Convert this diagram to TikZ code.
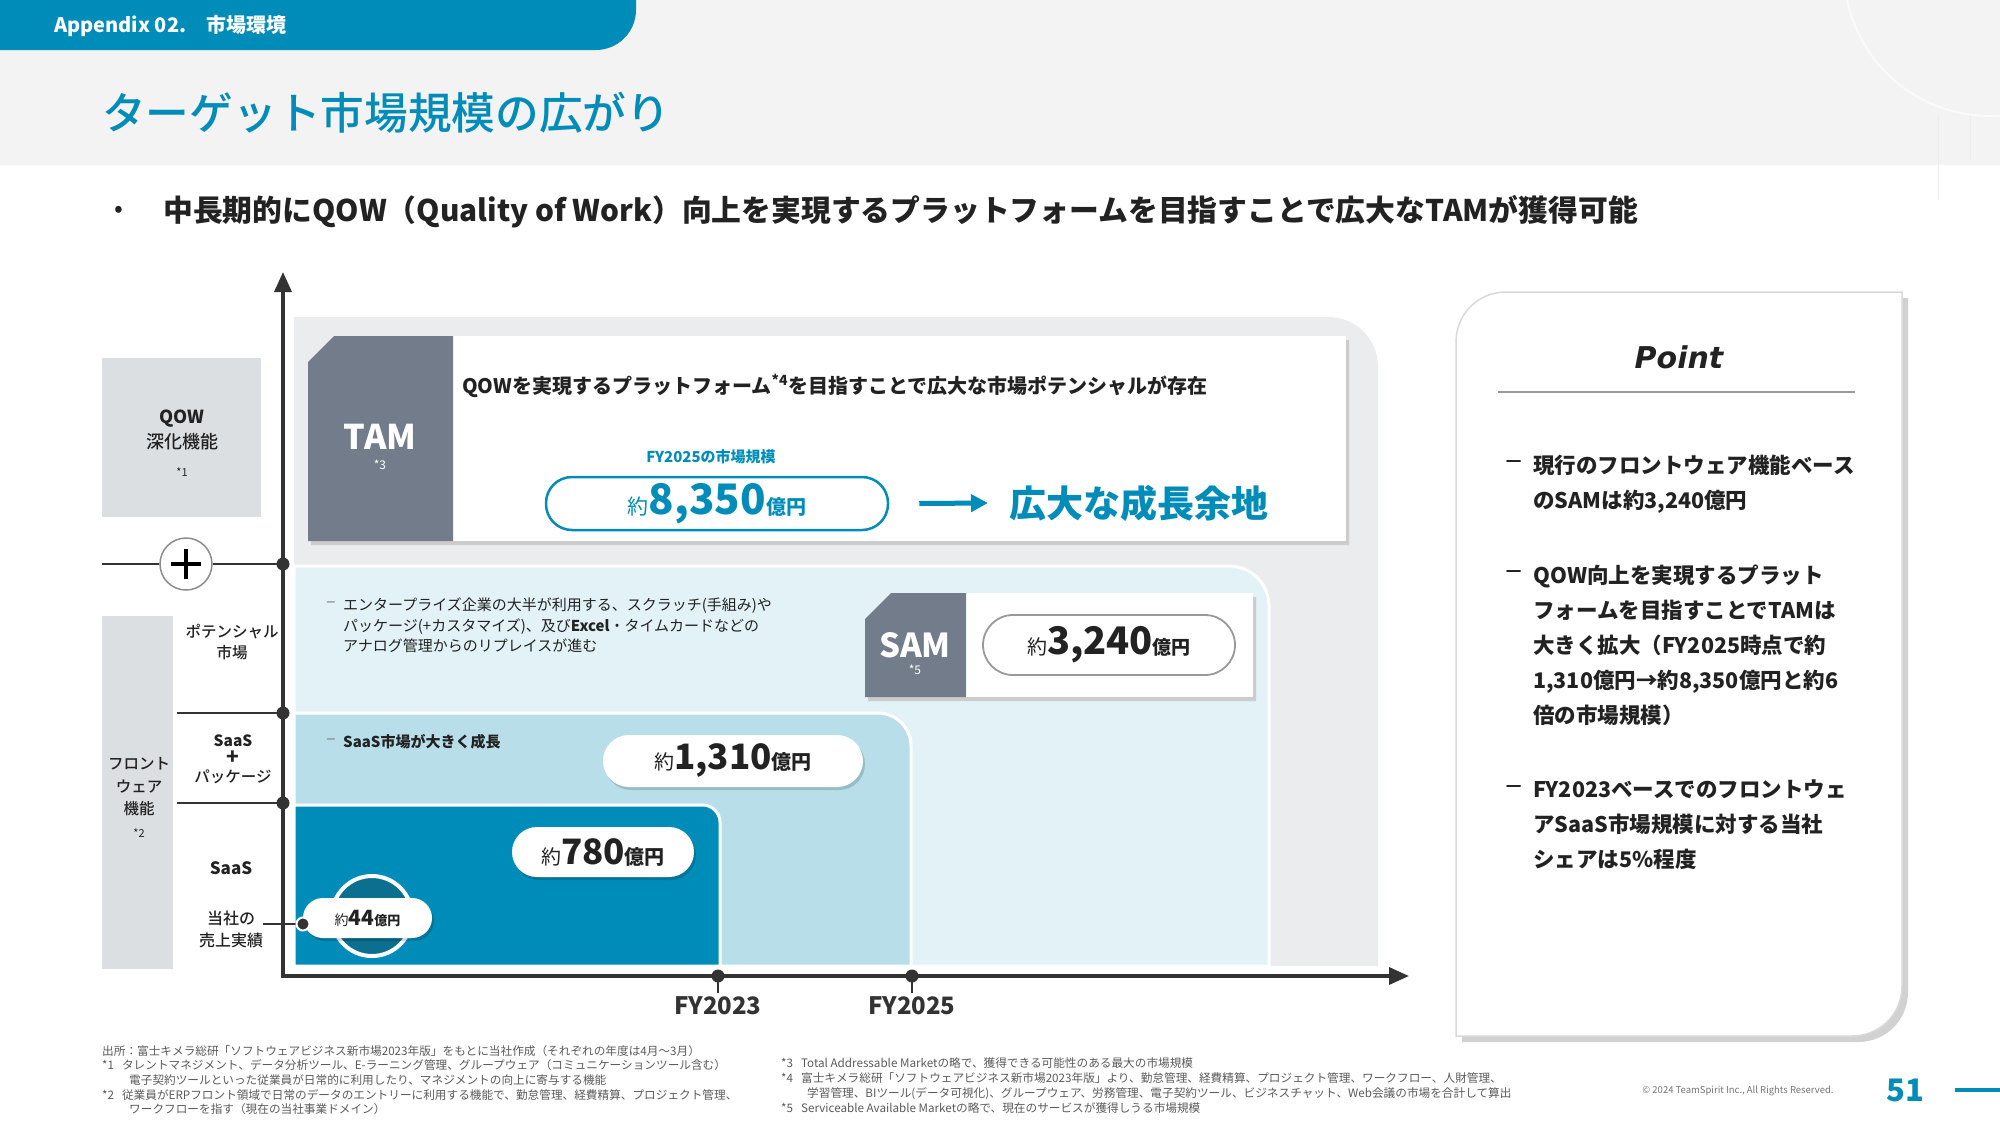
\documentclass[tikz,border=0pt]{standalone}
\usepackage{fontspec}
\setmainfont{Noto Sans CJK JP}
\newfontfamily\jpmed{Noto Sans CJK JP Medium}
\newfontfamily\pointfont{DejaVu Sans Bold Oblique}
\usetikzlibrary{arrows.meta,shadows}
\definecolor{brand}{RGB}{0,140,184}
\definecolor{hdbg}{RGB}{243,243,243}
\definecolor{tamgray}{RGB}{234,236,238}
\definecolor{potblue}{RGB}{226,242,247}
\definecolor{midblue}{RGB}{184,223,233}
\definecolor{ringteal}{RGB}{11,111,143}
\definecolor{tabgray}{RGB}{115,124,139}
\definecolor{boxgray}{RGB}{220,223,226}
\definecolor{ink}{RGB}{34,34,34}
\definecolor{axcol}{RGB}{51,51,51}
\definecolor{notegray}{RGB}{90,90,90}
\newcommand\sz[1]{\fontsize{#1}{#1}\selectfont}
\newcommand\oku[4]{{\sz{#1}約}{\sz{#2}\bfseries #3}{\sz{#4}\bfseries 億円}}

\begin{document}
\begin{tikzpicture}[x=1pt,y=-1pt,every node/.style={inner sep=0pt,text=ink},
 ax/.style={axcol,line width=3.5pt,line cap=rect},lead/.style={axcol,line width=1.4pt},
 pill/.style={fill=white,rounded corners=#1,drop shadow={shadow xshift=2pt,shadow yshift=-3pt,fill=black,opacity=.16}},
 tab/.style={fill=tabgray},lbl/.style={align=center},
 note/.style={anchor=north west,align=left,text=notegray,font=\fontsize{11.65}{14.7}\selectfont}]
\useasboundingbox (0,0) rectangle (2000,1125);
\fill[hdbg] (0,0) rectangle (2000,165);
\draw[white,line width=2pt,opacity=.6] (1990,-30) circle[radius=146];
\draw[black!7,line width=1pt] (1938,115) -- (1938,200) (1970,115) -- (1970,160);
\fill[brand] (0,0) -- (636,0) -- (636,10) .. controls (636,32) and (618,50) .. (596,50) -- (0,50) -- cycle;
\node[anchor=west,text=white,font=\sz{20}\bfseries] (sect) at (54,26) {Appendix 02.　市場環境};
\node[anchor=west,text=brand,font=\jpmed\sz{43.7}] (title) at (102,113) {ターゲット市場規模の広がり};
\node[font=\sz{26}] (bul) at (119,212) {•};
\node[anchor=west,font=\sz{29.8}\bfseries] (headline) at (163,212) {中長期的にQOW（Quality of Work）向上を実現するプラットフォームを目指すことで広大なTAMが獲得可能};
% market areas
\fill[tamgray] (294,966) -- (294,317) -- (1328,317) .. controls (1356,317) and (1378,339) .. (1378,367) -- (1378,966) -- cycle;
\filldraw[fill=potblue,draw=white,line width=3pt] (294,966) -- (294,566) -- (1229,566) .. controls (1251,566) and (1269,584) .. (1269,606) -- (1269,966) -- cycle;
\filldraw[fill=midblue,draw=white,line width=3pt] (294,966) -- (294,713) -- (878,713) .. controls (896,713) and (911,728) .. (911,746) -- (911,966) -- cycle;
\filldraw[fill=brand,draw=white,line width=3pt] (294,966) -- (294,805) -- (703,805) .. controls (712,805) and (720,813) .. (720,822) -- (720,966) -- cycle;
% TAM
\fill[black!20,shift={(3,4)}] (308,362) -- (334,336) -- (1346,336) -- (1346,541) -- (308,541) -- cycle;
\fill[white] (453,336) rectangle (1346,541);
\fill[tab] (308,362) -- (334,336) -- (453,336) -- (453,541) -- (308,541) -- cycle;
\node[text=white,font=\sz{34}\bfseries] (tam) at (380,437) {TAM};
\node[text=white,font=\sz{12}] (tamref) at (380,465) {*3};
\node[anchor=west,font=\sz{20}\bfseries] (tamdesc) at (462,386) {QOWを実現するプラットフォーム\textsuperscript{*4}を目指すことで広大な市場ポテンシャルが存在};
\node[text=brand,font=\sz{15}\bfseries] (fylbl) at (711,457) {FY2025の市場規模};
\node[draw=brand,line width=2.5pt,fill=white,rounded corners=26pt,minimum width=342pt,minimum height=53pt,text=brand] (tampill) at (717,503.5) {\oku{21}{42}{8,350}{20}};
\node[anchor=west,text=brand,font=\sz{37}\bfseries] (growth) at (1009,503) {広大な成長余地};
\draw[brand,line width=5pt,-{Triangle[length=17pt,width=17pt]}] ([xshift=30pt]tampill.east) -- ([xshift=-21pt]growth.west);
% SAM
\fill[black!20,shift={(3,4)}] (865,619) -- (891,593) -- (1253,593) -- (1253,697) -- (865,697) -- cycle;
\fill[white] (966,593) rectangle (1253,697);
\fill[tab] (865,619) -- (891,593) -- (966,593) -- (966,697) -- (865,697) -- cycle;
\node[text=white,font=\sz{33}\bfseries] (sam) at (915,645) {SAM};
\node[text=white,font=\sz{12}] (samref) at (915,670) {*5};
\node[draw=black!40,line width=1.8pt,fill=white,rounded corners=30pt,minimum width=252pt,minimum height=60pt] (sampill) at (1109,645) {\oku{20}{38}{3,240}{19}};
\node[anchor=west,text=black!50,font=\sz{18}] (dasha) at (326,605) {–};
\node[anchor=north west,align=left,font=\fontsize{15}{20.5}\selectfont] (enttxt) at (343,598) {エンタープライズ企業の大半が利用する、スクラッチ(手組み)や\\パッケージ(+カスタマイズ)、及び\textbf{Excel}・タイムカードなどの\\アナログ管理からのリプレイスが進む};
\node[anchor=west,text=black!50,font=\sz{18}] (dashb) at (326,742) {–};
\node[anchor=west,font=\sz{15}\bfseries] (saasgrow) at (343,742) {SaaS市場が大きく成長};
% amounts
\filldraw[fill=ringteal,draw=white,line width=4pt] (372,916) circle[radius=40];
\node[pill=26pt,minimum width=260pt,minimum height=52pt] (p1310) at (733,761) {\oku{20}{35}{1,310}{20}};
\node[pill=25pt,minimum width=182pt,minimum height=50pt] (p780) at (603,852) {\oku{20}{35}{780}{20}};
\node[pill=20pt,minimum width=129pt,minimum height=40pt] (p44) at (367.5,918) {\oku{14}{21}{44}{13}};
% left labels
\fill[boxgray] (102,358) rectangle (261,517);
\node[lbl,font=\jpmed\fontsize{18}{25}\selectfont] (qow) at (182,429.5) {\textbf{QOW}\\深化機能};
\node[font=\sz{11}] (qowref) at (182,472) {*1};
\fill[boxgray] (102,616) rectangle (173,969);
\node[lbl,font=\jpmed\fontsize{15.5}{22.5}\selectfont] (front) at (139,787) {フロント\\ウェア\\機能};
\node[font=\sz{11}] (frontref) at (139,833) {*2};
\node[lbl,font=\jpmed\fontsize{15.5}{21}\selectfont] (potlbl) at (232,642) {ポテンシャル\\市場};
\node[lbl,font=\jpmed\fontsize{15.5}{18}\selectfont] (pkglbl) at (233,759) {\textbf{SaaS}\\{\sz{21}\textbf{+}}\\パッケージ};
\node[font=\sz{17}\bfseries] (saaslbl) at (231,868) {SaaS};
\node[lbl,font=\jpmed\fontsize{16}{22}\selectfont] (selflbl) at (231,929) {当社の\\売上実績};
\node[circle,draw=black!45,line width=1.5pt,fill=white,minimum size=52pt] (plus) at (186,564) {};
\draw[line width=4pt] ([xshift=-15pt]plus.center) -- ([xshift=15pt]plus.center) ([yshift=-15pt]plus.center) -- ([yshift=15pt]plus.center);
\coordinate (qowstart) at (102,564);\coordinate (potstart) at (177,713);\coordinate (pkgstart) at (177,803);
\coordinate (selfstart) at (263,924);\coordinate (p44dot) at (303,924);
% axes
\coordinate (orig) at (283,976);\coordinate (ytip) at (283,272);\coordinate (xtip) at (1409,976);
\draw[ax,-{Triangle[length=20pt,width=17pt]}] (orig) -- (ytip);
\draw[ax,-{Triangle[length=20pt,width=17pt]}] (orig) -- (xtip);
\foreach \y/\n in {564/qowcut,713/potcut,803/pkgcut}{\coordinate (\n) at (283,\y);}
\draw[lead] (qowstart) -- (plus.west) (plus.east) -- (qowcut) (potstart) -- (potcut) (pkgstart) -- (pkgcut) (selfstart) -- (p44dot);
\foreach \n in {qowcut,potcut,pkgcut}{\fill[axcol] (\n) circle[radius=6.5];}
\filldraw[fill=axcol,draw=white,line width=2pt] (p44dot) circle[radius=6.5];
\foreach \x/\n/\t in {718/fy23/FY2023,912/fy25/FY2025}{
 \coordinate (\n) at (\x,976);\fill[axcol] (\n) circle[radius=6.5];
 \draw[lead,line width=1.2pt] (\n) -- ++(0,17);
 \node[font=\sz{24}\bfseries,text=axcol] (lbl\n) at (\x,1006) {\t};}
% point
\fill[black!18,shift={(6,6)}] (1456,1036) -- (1456,342) .. controls (1456,314) and (1478,292) .. (1506,292) -- (1902,292) -- (1902,986) .. controls (1902,1014) and (1880,1036) .. (1852,1036) -- cycle;
\filldraw[fill=white,draw=black!15,line width=1.5pt] (1456,1036) -- (1456,342) .. controls (1456,314) and (1478,292) .. (1506,292) -- (1902,292) -- (1902,986) .. controls (1902,1014) and (1880,1036) .. (1852,1036) -- cycle;
\node[font=\pointfont\sz{30}] (pointttl) at (1679,357) {Point};
\coordinate (rulel) at (1498,392);\coordinate (ruler) at (1855,392);
\draw[black!40,line width=1.5pt] (rulel) -- (ruler);
\foreach \y in {465,575,790}{\node[anchor=west,font=\sz{32}] (pdash\y) at (1505,\y) {–};}
\node[anchor=north west,align=left,font=\fontsize{21.5}{35}\selectfont\bfseries] (pt1) at (1533,455) {現行のフロントウェア機能ベース\\のSAMは約3,240億円};
\node[anchor=north west,align=left,font=\fontsize{21.5}{35}\selectfont\bfseries] (pt2) at (1533,565) {QOW向上を実現するプラット\\フォームを目指すことでTAMは\\大きく拡大（FY2025時点で約\\1,310億円→約8,350億円と約6\\倍の市場規模）};
\node[anchor=north west,align=left,font=\fontsize{21.5}{35}\selectfont\bfseries] (pt3) at (1533,780) {FY2023ベースでのフロントウェ\\アSaaS市場規模に対する当社\\シェアは5\%程度};
% notes
\node[note] (srcnote) at (102,1045) {出所：富士キメラ総研「ソフトウェアビジネス新市場2023年版」をもとに当社作成（それぞれの年度は4月～3月）\\{}*1\hspace{8pt}タレントマネジメント、データ分析ツール、E-ラーニング管理、グループウェア（コミュニケーションツール含む）\\\hspace*{27pt}電子契約ツールといった従業員が日常的に利用したり、マネジメントの向上に寄与する機能\\{}*2\hspace{8pt}従業員がERPフロント領域で日常のデータのエントリーに利用する機能で、勤怠管理、経費精算、プロジェクト管理、\\\hspace*{27pt}ワークフローを指す（現在の当社事業ドメイン）};
\node[note,font=\fontsize{11.65}{15.2}\selectfont] (defnote) at (781,1057) {*3\hspace{8pt}Total Addressable Marketの略で、獲得できる可能性のある最大の市場規模\\{}*4\hspace{8pt}富士キメラ総研「ソフトウェアビジネス新市場2023年版」より、勤怠管理、経費精算、プロジェクト管理、ワークフロー、人財管理、\\\hspace*{26pt}学習管理、BIツール(データ可視化)、グループウェア、労務管理、電子契約ツール、ビジネスチャット、Web会議の市場を合計して算出\\{}*5\hspace{8pt}Serviceable Available Marketの略で、現在のサービスが獲得しうる市場規模};
\node[text=black!55,font=\sz{9.5}] (copyr) at (1738,1091) {© 2024 TeamSpirit Inc., All Rights Reserved.};
\node[text=brand,font=\sz{31}\bfseries] (pagenum) at (1905,1090) {51};
\coordinate (pgend) at (2000,1090);
\draw[brand,line width=3.5pt] ([xshift=31pt]pagenum.east) -- (pgend);
\end{tikzpicture}
\end{document}
